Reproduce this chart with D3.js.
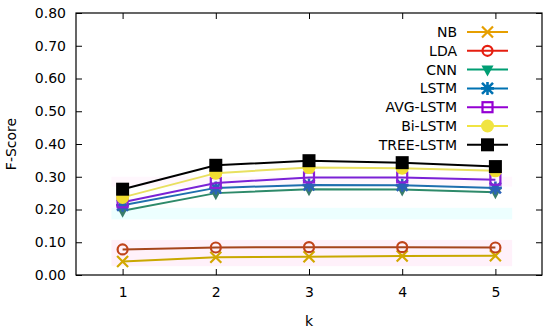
<!DOCTYPE html>
<html><head><meta charset="utf-8">
<script src="https://cdn.jsdelivr.net/npm/d3@7"></script>
<style>body{margin:0;background:#fff}svg{display:block}text{font-family:"DejaVu Sans",Verdana,sans-serif}</style>
</head><body><svg id="c" width="550" height="332"></svg>
<script>
const ks = [1, 2, 3, 4, 5];
const yTicks = [0, 0.1, 0.2, 0.3, 0.4, 0.5, 0.6, 0.7, 0.8];
const seriesNames = ["NB", "LDA", "CNN", "LSTM", "AVG-LSTM", "Bi-LSTM", "TREE-LSTM"];
const nb = [0.041, 0.054, 0.056, 0.058, 0.059];
const lda = [0.078, 0.084, 0.085, 0.085, 0.084];
const cnn = [0.196, 0.250, 0.262, 0.261, 0.253];
const lstm = [0.213, 0.266, 0.275, 0.274, 0.266];
const avgLstm = [0.222, 0.281, 0.298, 0.298, 0.291];
const biLstm = [0.237, 0.311, 0.328, 0.326, 0.318];
const treeLstm = [0.262, 0.335, 0.349, 0.343, 0.331];
const values = [nb, lda, cnn, lstm, avgLstm, biLstm, treeLstm];
const legendColors = ["#e69f00", "#e51e10", "#009e73", "#0072b2", "#9400d3", "#f0e442", "#000000"];
const plotColors = ["#c9a800", "#a5461c", "#2e8a6a", "#1f6fae", "#7a22d6", "#e8e060", "#000000"];
const markerColors = ["#d2a800", "#c0441a", "#3a7d6a", "#2a62b8", "#8a1fd8", "#f0dc30", "#000000"];
const shapes = ["x", "circle", "tri", "star", "square", "dot", "fsquare"];

const svg = d3.select("#c");
const m = {l: 76, r: 542, t: 13, b: 275};
const x = d3.scaleLinear().domain([0.5, 5.5]).range([m.l, m.r]);
const y = d3.scaleLinear().domain([0, 0.8]).range([m.b, m.t]);

// faint bands
const bands = [
  {lo: 0.027, hi: 0.107, c: "#ffd6f2", o: 0.35},
  {lo: 0.17, hi: 0.205, c: "#d8ffff", o: 0.45},
  {lo: 0.27, hi: 0.30, c: "#ffe6f8", o: 0.3}
];
bands.forEach(b => svg.append("rect").attr("x", x(0.88)).attr("width", x(5.18) - x(0.88))
  .attr("y", y(b.hi)).attr("height", y(b.lo) - y(b.hi)).attr("fill", b.c).attr("opacity", b.o));

// frame
svg.append("rect").attr("x", m.l).attr("y", m.t).attr("width", m.r - m.l).attr("height", m.b - m.t)
  .attr("fill", "none").attr("stroke", "#000").attr("stroke-width", 1.2);

// axes
const ax = svg.append("g").attr("class", "axes");
const yAxis = d3.axisLeft(y).tickValues(yTicks).tickFormat(d3.format(".2f")).tickSizeInner(-6).tickSizeOuter(0).tickPadding(10);
const yAxisR = d3.axisRight(y).tickValues(yTicks).tickFormat("").tickSizeInner(-6).tickSizeOuter(0);
const xAxis = d3.axisBottom(x).tickValues(ks).tickFormat(d3.format("d")).tickSizeInner(-6).tickSizeOuter(0).tickPadding(12);
const xAxisT = d3.axisTop(x).tickValues(ks).tickFormat("").tickSizeInner(-6).tickSizeOuter(0);
[[yAxis, `translate(${m.l},0)`], [yAxisR, `translate(${m.r},0)`], [xAxis, `translate(0,${m.b})`], [xAxisT, `translate(0,${m.t})`]]
  .forEach(([a, t]) => {
    const g = ax.append("g").attr("transform", t).call(a);
    g.select(".domain").remove();
    g.selectAll("line").attr("stroke", "#000").attr("stroke-width", 1);
    g.selectAll("text").attr("font-size", 14).attr("fill", "#000").attr("font-family", "DejaVu Sans, Verdana, sans-serif");
  });

svg.append("text").attr("transform", `translate(16,${(m.t + m.b) / 2}) rotate(-90)`).attr("text-anchor", "middle")
  .attr("font-size", 14).text("F-Score");
svg.append("text").attr("x", x(3)).attr("y", 326).attr("text-anchor", "middle").attr("font-size", 14).text("k");

function marker(g, shape, cx, cy, col) {
  const s = 5.5;
  if (shape === "x") {
    g.append("path").attr("d", `M${cx-s},${cy-s}L${cx+s},${cy+s}M${cx-s},${cy+s}L${cx+s},${cy-s}`).attr("stroke", col).attr("stroke-width", 2.2);
  } else if (shape === "circle") {
    g.append("circle").attr("cx", cx).attr("cy", cy).attr("r", 5).attr("fill", "none").attr("stroke", col).attr("stroke-width", 2.2);
  } else if (shape === "tri") {
    g.append("path").attr("d", `M${cx-6},${cy-4}L${cx+6},${cy-4}L${cx},${cy+7}Z`).attr("fill", col);
  } else if (shape === "star") {
    g.append("path").attr("d", `M${cx-s},${cy-s}L${cx+s},${cy+s}M${cx-s},${cy+s}L${cx+s},${cy-s}M${cx},${cy-s-1}L${cx},${cy+s+1}M${cx-s-1},${cy}L${cx+s+1},${cy}`)
      .attr("stroke", col).attr("stroke-width", 2.6);
  } else if (shape === "square") {
    g.append("rect").attr("x", cx - 5).attr("y", cy - 5).attr("width", 10).attr("height", 10).attr("fill", "none").attr("stroke", col).attr("stroke-width", 2.2);
  } else if (shape === "dot") {
    g.append("circle").attr("cx", cx).attr("cy", cy).attr("r", 6.5).attr("fill", col);
  } else if (shape === "fsquare") {
    g.append("rect").attr("x", cx - 6.5).attr("y", cy - 6.5).attr("width", 13).attr("height", 13).attr("fill", col);
  }
}

const line = d3.line().x((d, i) => x(ks[i])).y(d => y(d));
const plot = svg.append("g");
values.forEach((vals, si) => {
  const g = plot.append("g");
  g.append("path").datum(vals).attr("d", line).attr("fill", "none").attr("stroke", plotColors[si]).attr("stroke-width", 2);
  vals.forEach((v, i) => marker(g, shapes[si], x(ks[i]), y(v), markerColors[si]));
});

// legend
const lg = svg.append("g");
seriesNames.forEach((n, i) => {
  const ly = 32 + i * 18.8;
  lg.append("text").attr("x", 457).attr("y", ly + 5).attr("text-anchor", "end").attr("font-size", 14).text(n);
  lg.append("line").attr("x1", 467).attr("x2", 508).attr("y1", ly).attr("y2", ly).attr("stroke", legendColors[i]).attr("stroke-width", 2);
  marker(lg, shapes[i], 487.5, ly, legendColors[i]);
});
</script></body></html>
